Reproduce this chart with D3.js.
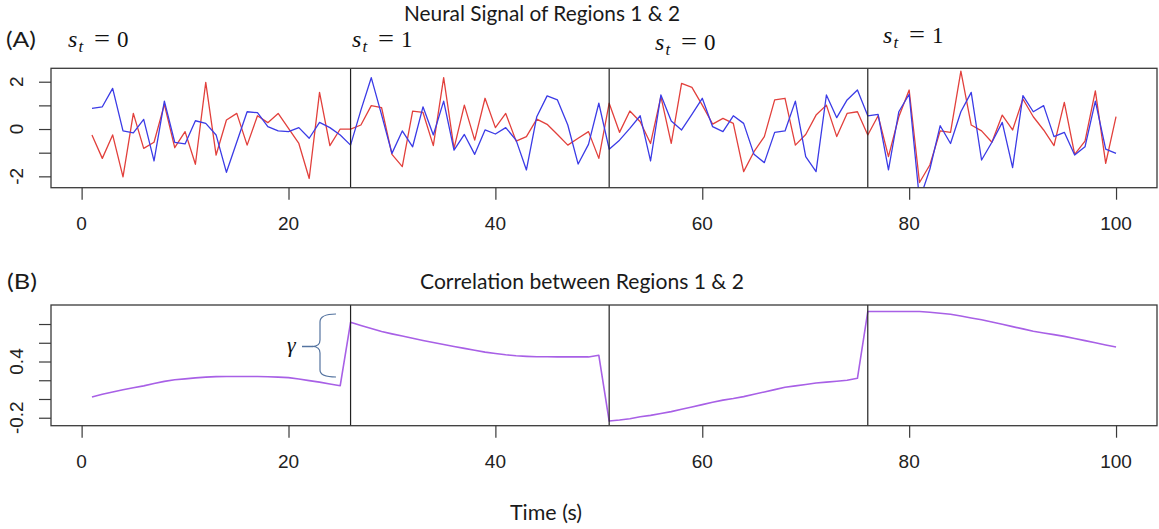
<!DOCTYPE html>
<html>
<head>
<meta charset="utf-8">
<script src="https://cdn.jsdelivr.net/npm/d3@7"></script>
<style>
  body { margin: 0; background: #fff; }
  svg { display: block; }
</style>
</head>
<body>
<script>
// Simulated neural signal of region 1 (red) and region 2 (blue), t = 1..100
const regionOne = [
  -0.25, -1.24, -0.25, -2.02, 0.66, -0.82, -0.56, 1.04, -0.79, -0.11,
  -1.49, 1.97, -1.10, 0.38, 0.66, -0.68, 0.56, 0.27, 0.66, 0.03,
  -0.61, -2.09, 1.55, -0.70, 0.00, 0.00, 0.17, 0.99, 0.90, -1.07,
  -1.59, 0.76, 0.70, -0.70, 2.17, -0.82, 1.01, -0.47, 1.30, 0.06,
  0.66, -0.51, -0.32, 0.42, 0.20, -0.23, -0.68, -0.39, -0.11, -1.24,
  1.09, -0.14, 0.76, 0.31, -0.61, 1.37, -0.61, 1.93, 1.76, 1.01,
  0.21, 0.45, 0.24, -1.80, -0.96, -0.32, 1.23, 1.30, -0.68, -0.23,
  0.59, 1.01, -0.32, 0.66, 0.73, -0.25, 0.56, -1.17, 0.52, 1.65,
  -2.26, -1.52, -0.08, -0.14, 2.45, 0.17, -0.08, -0.56, 0.59, -0.04,
  1.27, 0.52, -0.04, -0.70, 1.13, -1.07, -0.51, 1.61, -1.45, 0.52
];
const regionTwo = [
  0.87, 0.94, 1.72, -0.08, -0.16, 0.41, -1.35, 1.18, -0.56, -0.63,
  0.35, 0.24, -0.25, -1.83, -0.55, 0.73, 0.69, 0.10, -0.08, -0.11,
  0.06, -0.39, 0.28, 0.06, -0.25, -0.68, 0.80, 2.17, 0.60, -1.03,
  -0.08, -0.75, 0.94, -0.25, 1.18, -0.89, -0.23, -1.07, -0.04, -0.21,
  0.06, -0.47, -1.73, 0.52, 1.40, 1.23, 0.17, -1.48, -0.65, 1.09,
  -0.85, -0.47, 0.03, 0.56, -1.35, 1.44, 0.34, -0.04, 0.62, 1.30,
  0.10, -0.11, 0.56, 0.24, -1.07, -1.42, -0.14, -0.08, 1.18, -1.17,
  -1.80, 1.44, 0.48, 1.23, 1.65, 0.56, 0.62, -1.73, 0.73, 1.47,
  -3.00, -1.70, 0.14, -0.61, 0.73, 1.55, -1.31, -0.56, 0.28, -1.63,
  1.41, 0.73, 0.99, -0.32, -0.14, -1.10, -0.75, 1.18, -0.85, -1.03
];
// Time-varying correlation between the two regions, t = 1..100
const correlation = [
  0.021, 0.05, 0.075, 0.098, 0.12, 0.14, 0.165, 0.188, 0.205, 0.215,
  0.225, 0.233, 0.239, 0.24, 0.24, 0.24, 0.24, 0.238, 0.233, 0.228,
  0.214, 0.196, 0.18, 0.16, 0.142, 0.818, 0.785, 0.752, 0.72, 0.695,
  0.672, 0.648, 0.625, 0.603, 0.582, 0.56, 0.54, 0.52, 0.5, 0.485,
  0.472, 0.462, 0.455, 0.45, 0.45, 0.449, 0.449, 0.449, 0.449, 0.466,
  -0.235, -0.225, -0.21, -0.19, -0.175, -0.155, -0.135, -0.11, -0.085, -0.06,
  -0.035, -0.012, 0.005, 0.025, 0.05, 0.075, 0.1, 0.125, 0.14, 0.155,
  0.17, 0.18, 0.19, 0.2, 0.221, 0.933, 0.933, 0.933, 0.933, 0.933,
  0.933, 0.925, 0.915, 0.905, 0.885, 0.865, 0.845, 0.822, 0.797, 0.772,
  0.748, 0.723, 0.705, 0.687, 0.668, 0.646, 0.623, 0.6, 0.577, 0.554
];

// Regime switch points and the hidden state of each regime
const regimeBreaks = [26, 51, 76];
const regimeStates = [0, 1, 0, 1];

// Axis ticks and which of them carry labels
const timeTicks = [0, 20, 40, 60, 80, 100];
const signalTicks = [-2, -1, 0, 1, 2];
const signalTickLabels = [-2, 0, 2];
const corrTicks = [-0.2, 0, 0.2, 0.4, 0.6, 0.8];
const corrTickLabels = [-0.2, 0.4];

const W = 1159, H = 529;
const svg = d3.select("body").append("svg")
  .attr("width", W).attr("height", H)
  .style("background", "#fff");

const plotLeft = 51, plotRight = 1157;
const x = d3.scaleLinear().domain([-2.96, 103.96]).range([plotLeft, plotRight]);

const tickFont = "'Liberation Sans', Arial, sans-serif";
const textFont = "Lato, 'Open Sans', sans-serif";

const panels = [
  {
    id: "signal", top: 68.3, bottom: 187.7, domain: [-2.48, 2.567],
    ticks: signalTicks, labels: signalTickLabels, fmt: d => String(d),
    series: [
      { values: regionOne, color: "#e2403c", width: 1.3 },
      { values: regionTwo, color: "#3b3be6", width: 1.3 }
    ]
  },
  {
    id: "corr", top: 305, bottom: 425.7, domain: [-0.285, 1.003],
    ticks: corrTicks, labels: corrTickLabels, fmt: d => d.toFixed(1),
    series: [
      { values: correlation, color: "#a860e6", width: 1.6 }
    ]
  }
];

panels.forEach(p => {
  const y = d3.scaleLinear().domain(p.domain).range([p.bottom, p.top]);
  const g = svg.append("g");

  g.append("clipPath").attr("id", "clip-" + p.id)
    .append("rect")
    .attr("x", plotLeft).attr("y", p.top)
    .attr("width", plotRight - plotLeft).attr("height", p.bottom - p.top);

  const line = d3.line()
    .x((d, i) => x(i + 1))
    .y(d => y(d));

  const plot = g.append("g").attr("clip-path", "url(#clip-" + p.id + ")");
  p.series.forEach(s => {
    plot.append("path")
      .datum(s.values)
      .attr("d", line)
      .attr("fill", "none")
      .attr("stroke", s.color)
      .attr("stroke-width", s.width)
      .attr("stroke-linejoin", "round");
  });

  // regime boundaries
  plot.selectAll("line.brk").data(regimeBreaks).enter().append("line")
    .attr("x1", d => x(d)).attr("x2", d => x(d))
    .attr("y1", p.top).attr("y2", p.bottom)
    .attr("stroke", "#222").attr("stroke-width", 1.2);

  // plot frame
  g.append("rect")
    .attr("x", plotLeft).attr("y", p.top)
    .attr("width", plotRight - plotLeft).attr("height", p.bottom - p.top)
    .attr("fill", "none").attr("stroke", "#3a3a3a").attr("stroke-width", 1.3);

  // x axis
  const xa = g.append("g").attr("transform", `translate(0,${p.bottom})`)
    .call(d3.axisBottom(x).tickValues(timeTicks).tickSize(12).tickSizeOuter(0).tickFormat(""));
  xa.select(".domain").remove();
  xa.selectAll("line").attr("stroke", "#3a3a3a").attr("stroke-width", 1.2);
  g.selectAll("text.xl").data(timeTicks).enter().append("text")
    .attr("x", d => x(d)).attr("y", p.bottom + 42)
    .attr("text-anchor", "middle")
    .style("font-family", tickFont).style("font-size", "19px").attr("fill", "#222")
    .text(d => d);

  // y axis
  const ya = g.append("g").attr("transform", `translate(${plotLeft},0)`)
    .call(d3.axisLeft(y).tickValues(p.ticks).tickSize(12).tickSizeOuter(0).tickFormat(""));
  ya.select(".domain").remove();
  ya.selectAll("line").attr("stroke", "#3a3a3a").attr("stroke-width", 1.2);
  g.selectAll("text.yl").data(p.labels).enter().append("text")
    .attr("transform", d => `translate(22.5,${y(d)}) rotate(-90)`)
    .attr("text-anchor", "middle")
    .style("font-family", tickFont).style("font-size", "19px").attr("fill", "#222")
    .text(d => p.fmt(d));
});

// Panel titles and tags
function label(txt, x0, base, size, width, anchor) {
  const t = svg.append("text")
    .attr("x", x0).attr("y", base)
    .attr("text-anchor", anchor || "start")
    .style("font-family", textFont).style("font-size", size + "px")
    .attr("fill", "#1a1a1a")
    .text(txt);
  if (width) t.attr("textLength", width).attr("lengthAdjust", "spacingAndGlyphs");
  return t;
}
label("Neural Signal of Regions 1 & 2", 404, 21, 21, 276);
label("Correlation between Regions 1 & 2", 420, 289, 22, 324);
label("(A)", 6, 47, 22, 30);
label("(B)", 7, 289, 22, 30);
label("Time (s)", 510, 520, 22, 72);

// State labels s_t = k above each regime
const statePos = [[68, 47], [352, 46.5], [655, 50], [883, 43]];
const mathFont = "'Liberation Serif', 'DejaVu Serif', serif";
regimeStates.forEach((s, i) => {
  const [sx, sb] = statePos[i];
  const g = svg.append("g").attr("transform", `translate(${sx},${sb})`)
    .style("font-family", mathFont).attr("fill", "#111");
  g.append("text").attr("x", 0).attr("y", 0)
    .style("font-size", "24px").style("font-style", "italic").text("s");
  g.append("text").attr("x", 10.5).attr("y", 5)
    .style("font-size", "17px").style("font-style", "italic").text("t");
  g.append("text").attr("x", 26).attr("y", -1)
    .style("font-size", "24px")
    .attr("textLength", 16).attr("lengthAdjust", "spacingAndGlyphs").text("=");
  g.append("text").attr("x", 49).attr("y", 0)
    .style("font-size", "23px").text(String(s));
});

// Jump size annotation (gamma) with curly brace
const braceColor = "#5574a0";
svg.append("path")
  .attr("d", "M336,314 Q320,314 320,322 L320,340 Q320,346.5 312,346.5 Q320,346.5 320,353 L320,370 Q320,377 336,377")
  .attr("fill", "none").attr("stroke", braceColor).attr("stroke-width", 1.2);
svg.append("line")
  .attr("x1", 302).attr("x2", 313).attr("y1", 346.5).attr("y2", 346.5)
  .attr("stroke", braceColor).attr("stroke-width", 1.5);
svg.append("text")
  .attr("x", 287).attr("y", 352)
  .style("font-family", mathFont).style("font-size", "22px").style("font-style", "italic")
  .attr("fill", "#111").text("γ");
</script>
</body>
</html>
